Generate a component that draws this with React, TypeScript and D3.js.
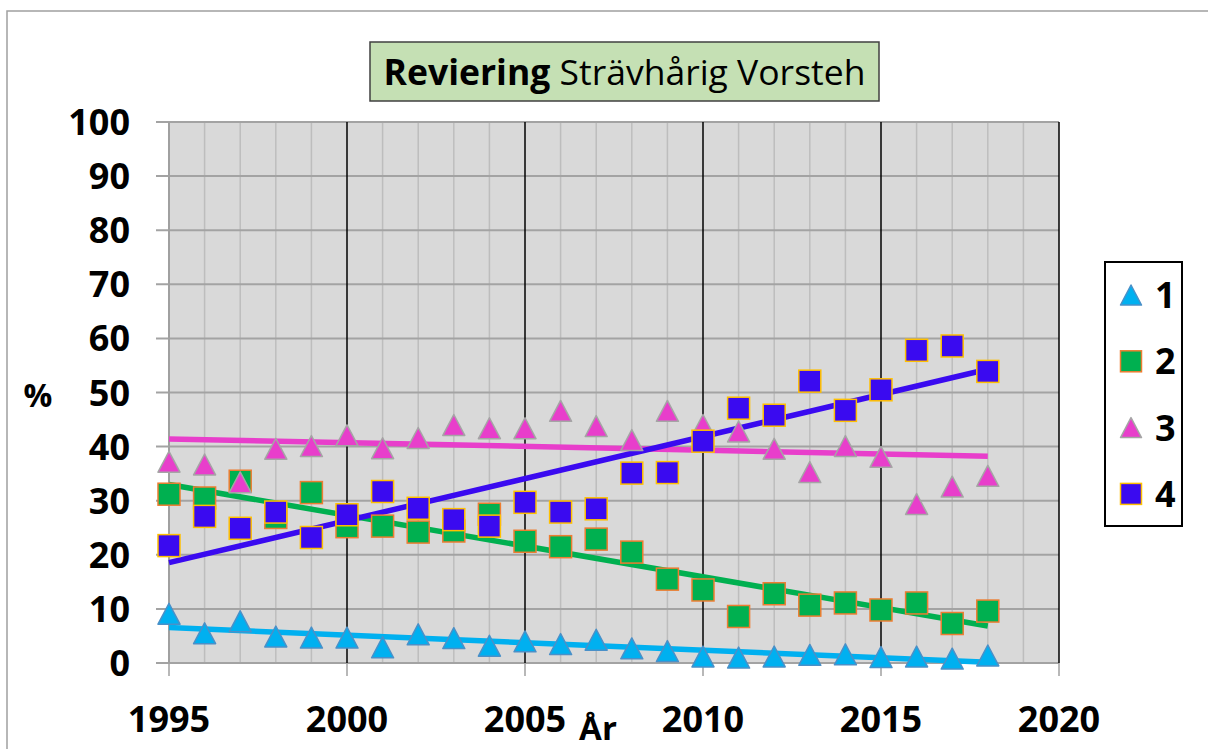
import React from "react";
import * as d3 from "d3";

const years = d3.range(1995, 2019);
const series1 = [9.1, 5.5, 7.7, 4.9, 4.7, 4.7, 2.9, 5.3, 4.6, 3.2, 4.0, 3.5, 4.3, 2.7, 2.2, 1.2, 1.0, 1.2, 1.5, 1.6, 1.1, 1.2, 0.8, 1.4];
const series2 = [31.2, 30.5, 33.6, 26.9, 31.5, 25.2, 25.3, 24.2, 24.4, 27.5, 22.5, 21.5, 22.9, 20.5, 15.5, 13.5, 8.6, 12.8, 10.7, 11.1, 9.8, 11.1, 7.3, 9.6];
const series3 = [37.2, 36.7, 33.4, 39.6, 40.1, 42.1, 39.7, 41.6, 44.0, 43.4, 43.4, 46.6, 43.8, 41.2, 46.6, 44.0, 42.8, 39.6, 35.3, 40.1, 38.1, 29.4, 32.6, 34.6];
const series4 = [21.7, 27.1, 24.9, 27.9, 23.2, 27.4, 31.7, 28.6, 26.5, 25.3, 29.7, 27.9, 28.5, 35.1, 35.2, 41.0, 47.1, 45.8, 52.1, 46.7, 50.5, 57.8, 58.6, 53.9];
const seriesNames = ["1", "2", "3", "4"];
const yTicks = [0, 10, 20, 30, 40, 50, 60, 70, 80, 90, 100];
const xTicks = [1995, 2000, 2005, 2010, 2015, 2020];

const styles = [
  { shape: "tri", fill: "#00B0F0", stroke: "#4A90C8", line: "#00B0F0" },
  { shape: "sq", fill: "#00B050", stroke: "#ED7D31", line: "#00B050" },
  { shape: "tri", fill: "#E83ECB", stroke: "#A5A5A5", line: "#E83ECB" },
  { shape: "sq", fill: "#3A0AF0", stroke: "#FFC000", line: "#3A0AF0" },
];
const allSeries = [series1, series2, series3, series4];

function regression(xs: number[], ys: number[]) {
  const mx = d3.mean(xs)!;
  const my = d3.mean(ys)!;
  let num = 0, den = 0;
  xs.forEach((x, i) => { num += (x - mx) * (ys[i] - my); den += (x - mx) ** 2; });
  const b = num / den;
  const a = my - b * mx;
  return (x: number) => a + b * x;
}

function Marker({ shape, cx, cy, fill, stroke, size }: any) {
  if (shape === "tri") {
    const w = size, h = size * 0.95;
    const d = `M${cx},${cy - h / 2}L${cx + w / 2},${cy + h / 2}L${cx - w / 2},${cy + h / 2}Z`;
    return <path d={d} fill={fill} stroke={stroke} strokeWidth={1.5} strokeLinejoin="round" />;
  }
  return <rect x={cx - size / 2} y={cy - size / 2} width={size} height={size} fill={fill} stroke={stroke} strokeWidth={1.5} />;
}

export default function App() {
  const x = d3.scaleLinear().domain([1995, 2020]).range([169, 1059]);
  const y = d3.scaleLinear().domain([0, 100]).range([663, 122]);
  const font = "'Open Sans', sans-serif";
  const allYears = d3.range(1995, 2021);

  return (
    <svg width={1208} height={749} style={{ position: "absolute", left: 0, top: 0, background: "#fff" }}>
      <rect x={7} y={11} width={1230} height={760} fill="#fff" stroke="#A0A0A0" strokeWidth={1.5} />
      {/* plot background */}
      <rect x={x(1995)} y={y(100)} width={x(2020) - x(1995)} height={y(0) - y(100)} fill="#D9D9D9" />
      {/* vertical minor grid */}
      {allYears.filter((yr) => yr % 5 !== 0).map((yr) => (
        <line key={"v" + yr} x1={x(yr)} x2={x(yr)} y1={y(100)} y2={y(0)} stroke="#BDBDBD" strokeWidth={1.5} />
      ))}
      {/* horizontal grid */}
      {yTicks.map((t) => (
        <line key={"h" + t} x1={156} x2={x(2020)} y1={y(t)} y2={y(t)} stroke="#A3A3A3" strokeWidth={2} />
      ))}
      {/* vertical major grid */}
      {xTicks.filter((t) => t !== 1995).map((t) => (
        <line key={"V" + t} x1={x(t)} x2={x(t)} y1={y(100)} y2={y(0)} stroke="#000" strokeWidth={1.5} />
      ))}
      {/* x ticks */}
      {xTicks.map((t) => (
        <line key={"xt" + t} x1={x(t)} x2={x(t)} y1={y(0)} y2={y(0) + 13} stroke="#A0A0A0" strokeWidth={1.5} />
      ))}
      {/* y axis */}
      <line x1={x(1995)} x2={x(1995)} y1={y(100)} y2={y(0)} stroke="#A0A0A0" strokeWidth={2} />
      {/* trend lines */}
      {allSeries.map((s, i) => {
        const f = regression(years, s);
        return (
          <line key={"tr" + i} x1={x(1995)} y1={y(f(1995))} x2={x(2018)} y2={y(f(2018))}
            stroke={styles[i].line} strokeWidth={5.5} />
        );
      })}
      {/* markers */}
      {allSeries.map((s, i) => (
        <g key={"s" + i}>
          {s.map((v, j) => (
            <Marker key={j} shape={styles[i].shape} cx={x(years[j])} cy={y(v)}
              fill={styles[i].fill} stroke={styles[i].stroke} size={22} />
          ))}
        </g>
      ))}
      {/* y labels */}
      {yTicks.map((t) => (
        <text key={"yl" + t} x={130} y={y(t) + 13} textAnchor="end" fontFamily={font} fontWeight="bold" fontSize={36} fill="#000">{t}</text>
      ))}
      {/* x labels */}
      {xTicks.map((t) => (
        <text key={"xl" + t} x={x(t)} y={732} textAnchor="middle" fontFamily={font} fontWeight="bold" fontSize={36} fill="#000">{t}</text>
      ))}
      <text x={598} y={740} textAnchor="middle" fontFamily={font} fontWeight="bold" fontSize={33} fill="#000">År</text>
      <text x={38} y={407} textAnchor="middle" fontFamily={font} fontWeight="bold" fontSize={32} fill="#000">%</text>
      {/* title */}
      <rect x={370} y={42} width={509} height={59} fill="#C5E0B4" stroke="#404040" strokeWidth={1.5} />
      <text x={624.5} y={85} textAnchor="middle" fontFamily={font} fontSize={35.5} fill="#000">
        <tspan fontWeight="bold">Reviering</tspan>
        <tspan> Strävhårig Vorsteh</tspan>
      </text>
      {/* legend */}
      <rect x={1105} y={262} width={77} height={264} fill="#fff" stroke="#000" strokeWidth={2} />
      {seriesNames.map((n, i) => {
        const cy = 295 + i * 66.3;
        return (
          <g key={"lg" + i}>
            <Marker shape={styles[i].shape} cx={1131} cy={cy} fill={styles[i].fill} stroke={styles[i].stroke} size={21} />
            <text x={1155} y={cy + 13} fontFamily={font} fontWeight="bold" fontSize={36} fill="#000">{n}</text>
          </g>
        );
      })}
    </svg>
  );
}
